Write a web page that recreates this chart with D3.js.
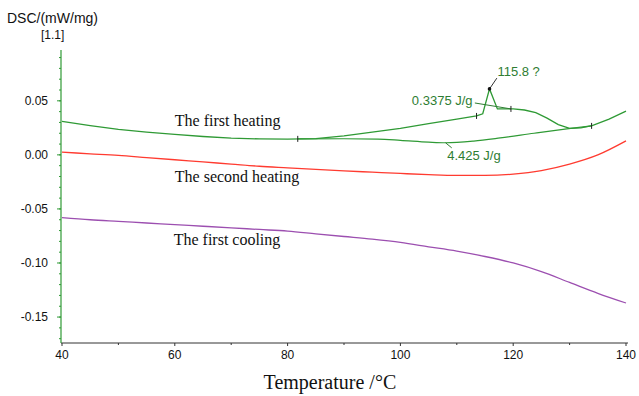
<!DOCTYPE html>
<html>
<head>
<meta charset="utf-8">
<script src="https://cdnjs.cloudflare.com/ajax/libs/d3/7.8.5/d3.min.js"></script>
<style>
  body { margin: 0; background: #fff; }
  svg { display: block; }
  .tick-label { font-family: "Liberation Sans", Arial, sans-serif; font-size: 12px; fill: #111; }
  .series-label { font-family: "Liberation Serif", "Times New Roman", serif; font-size: 16px; fill: #111; }
  .note { font-family: "Liberation Sans", Arial, sans-serif; font-size: 13px; fill: #2e7d32; }
</style>
</head>
<body>
<svg id="chart" width="639" height="396"></svg>
<script>
// temperature (°C) / DSC (mW/mg) pairs
var firstHeating = [
  [40,0.031],[45,0.027],[50,0.0235],[55,0.021],[60,0.019],[65,0.017],[70,0.0155],[75,0.0148],
  [80,0.0145],[85,0.015],[90,0.0175],[95,0.021],[100,0.0245],[105,0.029],[110,0.033],[113.5,0.036],
  [114.6,0.038],[115.8,0.061],[117.2,0.0425],[120,0.0425],[122,0.0415],[124,0.039],[126,0.034],
  [128,0.028],[130,0.0245],[132,0.025],[134,0.027],[137,0.033],[140,0.0405]
];
var heatingBaseline = [
  [81.8,0.0148],[90,0.0149],[96,0.0146],[100,0.0135],[105,0.0118],[108,0.0112],[113,0.0128],
  [117.7,0.0157],[123.7,0.0200],[129.5,0.0240],[133.9,0.0268]
];
var secondHeating = [
  [40,0.0025],[45,0.001],[50,-0.0005],[55,-0.0025],[60,-0.0045],[65,-0.0065],[70,-0.0085],[75,-0.0105],
  [80,-0.012],[85,-0.0135],[90,-0.0148],[95,-0.016],[100,-0.0172],[105,-0.0183],[110,-0.019],
  [115,-0.019],[120,-0.0178],[125,-0.0145],[130,-0.0085],[135,0.0],[140,0.013]
];
var firstCooling = [
  [40,-0.058],[45,-0.06],[50,-0.0615],[55,-0.063],[60,-0.0645],[65,-0.066],[70,-0.0675],[75,-0.069],
  [80,-0.0705],[85,-0.073],[90,-0.0755],[95,-0.078],[100,-0.081],[105,-0.085],[110,-0.089],
  [115,-0.094],[120,-0.1],[125,-0.108],[130,-0.118],[135,-0.128],[140,-0.137]
];
var markers = [[81.8,0.0148],[113.5,0.036],[119.6,0.0425],[133.9,0.0268]];
var peakTop = [115.8,0.061];
var xTicks = [40,60,80,100,120,140];
var xMinor = [50,70,90,110,130];
var yTicks = [0.05,0.00,-0.05,-0.10,-0.15];
var yMinor = d3.range(-17,10).map(d => d / 100);
var seriesLabels = [
  {text: 'The first heating', t: 60, v: 0.0269},
  {text: 'The second heating', t: 60, v: -0.025},
  {text: 'The first cooling', t: 59.8, v: -0.0833}
];

var
  margin = {top: 50, right: 13, bottom: 53, left: 62},
  width = 639 - margin.left - margin.right,
  height = 396 - margin.top - margin.bottom,
  green = '#2f9a35',
  noteGreen = '#2e7d32',
  red = '#ff3b30',
  purple = '#9c4fb0',
  xScale = d3.scaleLinear().domain([40,140]).range([0, width]),
  yScale = d3.scaleLinear().domain([-0.174,0.097]).range([height, 0]),
  line = d3.line().curve(d3.curveMonotoneX).x(d => xScale(d[0])).y(d => yScale(d[1])),
  lin = d3.line().x(d => xScale(d[0])).y(d => yScale(d[1])),
  svg = d3.select('#chart'),
  g = svg.append('g').attr('transform', 'translate(' + margin.left + ',' + margin.top + ')')
  ;

// x axis
var xAxis = g.append('g').attr('transform', 'translate(0,' + height + ')');
xAxis.append('line')
  .attr('x1', -1).attr('x2', width + 2)
  .attr('stroke', '#333').attr('stroke-width', 1);
xAxis.selectAll('.minor')
  .data(xMinor).enter().append('line')
  .attr('x1', d => xScale(d)).attr('x2', d => xScale(d))
  .attr('y1', 0).attr('y2', 2)
  .attr('stroke', '#333');
xAxis.selectAll('.major')
  .data(xTicks).enter().append('line')
  .attr('x1', d => xScale(d)).attr('x2', d => xScale(d))
  .attr('y1', 0).attr('y2', 3)
  .attr('stroke', '#333');
xAxis.selectAll('text')
  .data(xTicks).enter().append('text')
  .attr('class', 'tick-label')
  .attr('x', d => xScale(d)).attr('y', 16)
  .attr('text-anchor', 'middle')
  .text(d => d);

// y axis (green, like the instrument export)
var yAxis = g.append('g').attr('transform', 'translate(-1,0)');
yAxis.append('line')
  .attr('y1', 0).attr('y2', height)
  .attr('stroke', green).attr('stroke-width', 1.2);
yAxis.selectAll('.minor')
  .data(yMinor).enter().append('line')
  .attr('y1', d => yScale(d)).attr('y2', d => yScale(d))
  .attr('x1', -2).attr('x2', 0)
  .attr('stroke', green);
yAxis.selectAll('.major')
  .data(yTicks).enter().append('line')
  .attr('y1', d => yScale(d)).attr('y2', d => yScale(d))
  .attr('x1', -4).attr('x2', 0)
  .attr('stroke', green);
yAxis.selectAll('text')
  .data(yTicks).enter().append('text')
  .attr('class', 'tick-label')
  .attr('x', -13).attr('y', d => yScale(d) + 4)
  .attr('text-anchor', 'end')
  .text(d => d3.format('.2f')(d).replace('−', '-'));

svg.append('text')
  .attr('x', 7).attr('y', 23)
  .style('font-family', '"Liberation Sans", Arial, sans-serif')
  .style('font-size', '14px').style('fill', '#111')
  .text('DSC/(mW/mg)');
svg.append('text')
  .attr('x', 41).attr('y', 39)
  .style('font-family', '"Liberation Sans", Arial, sans-serif')
  .style('font-size', '12px').style('fill', '#111')
  .text('[1.1]');
svg.append('text')
  .attr('x', margin.left + xScale(87.5)).attr('y', 389)
  .attr('text-anchor', 'middle')
  .style('font-family', '"Liberation Serif", "Times New Roman", serif')
  .style('font-size', '20px').style('fill', '#111')
  .text('Temperature /°C');

// curves
g.append('path').attr('d', line(firstCooling))
  .attr('fill', 'none').attr('stroke', purple).attr('stroke-width', 1.3);
g.append('path').attr('d', line(secondHeating))
  .attr('fill', 'none').attr('stroke', red).attr('stroke-width', 1.3);
g.append('path').attr('d', line(heatingBaseline))
  .attr('fill', 'none').attr('stroke', green).attr('stroke-width', 1.2);
g.append('path').attr('d', lin(firstHeating))
  .attr('fill', 'none').attr('stroke', green).attr('stroke-width', 1.3);

// small-peak baseline and annotation leaders
g.append('path').attr('d', lin([[113.2,0.048],[119.6,0.0425]]))
  .attr('fill', 'none').attr('stroke', noteGreen).attr('stroke-width', 1);
g.append('path').attr('d', lin([[117.1,0.071],[115.8,0.061]]))
  .attr('fill', 'none').attr('stroke', '#333').attr('stroke-width', 1);
g.append('path').attr('d', lin([[108,0.0112],[109.1,0.0065]]))
  .attr('fill', 'none').attr('stroke', noteGreen).attr('stroke-width', 1);

g.selectAll('.marker')
  .data(markers).enter().append('line')
  .attr('x1', d => xScale(d[0])).attr('x2', d => xScale(d[0]))
  .attr('y1', d => yScale(d[1]) - 3).attr('y2', d => yScale(d[1]) + 3)
  .attr('stroke', '#222').attr('stroke-width', 1);
g.append('circle')
  .attr('cx', xScale(peakTop[0])).attr('cy', yScale(peakTop[1]))
  .attr('r', 1.8).attr('fill', '#111');

g.append('text').attr('class', 'note')
  .attr('x', xScale(117.2)).attr('y', yScale(0.073))
  .text('115.8 ?');
g.append('text').attr('class', 'note')
  .attr('x', xScale(112.8)).attr('y', yScale(0.0465))
  .attr('text-anchor', 'end')
  .text('0.3375 J/g');
g.append('text').attr('class', 'note')
  .attr('x', xScale(108.3)).attr('y', yScale(-0.005))
  .text('4.425 J/g');

g.selectAll('.series-label')
  .data(seriesLabels).enter().append('text')
  .attr('class', 'series-label')
  .attr('x', d => xScale(d.t)).attr('y', d => yScale(d.v))
  .text(d => d.text);
</script>
</body>
</html>
